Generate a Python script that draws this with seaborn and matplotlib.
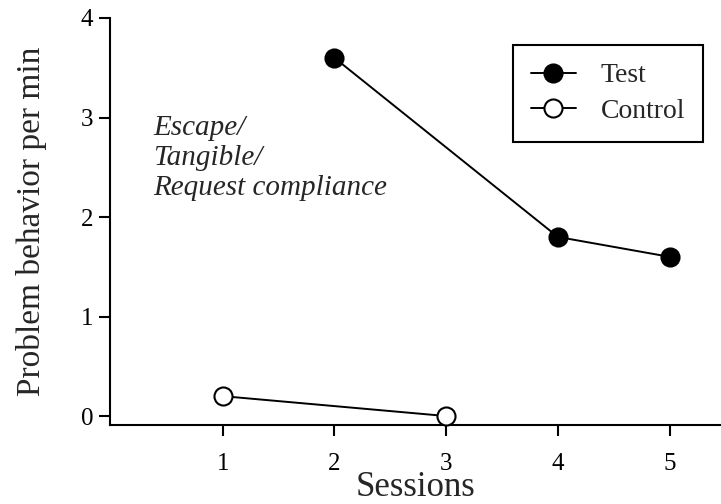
import matplotlib
matplotlib.use("Agg")
import matplotlib.pyplot as plt
import seaborn as sns
import pandas as pd

test_sessions = [2, 4, 5]
test_values = [3.6, 1.8, 1.6]
control_sessions = [1, 3]
control_values = [0.2, 0.0]
x_ticks = [1, 2, 3, 4, 5]
y_ticks = [0, 1, 2, 3, 4]

sns.set_style("ticks")
plt.rcParams['font.family'] = ['Liberation Serif', 'DejaVu Serif']

test_df = pd.DataFrame({"Session": test_sessions, "Value": test_values})
control_df = pd.DataFrame({"Session": control_sessions, "Value": control_values})

fig = plt.figure(figsize=(7.21, 5.04), dpi=100)
ax = fig.add_axes([110/721, 79/504, 1 - 110/721, (425 - 18)/504])

common = dict(color="black", marker="o", markersize=13, markeredgecolor="black",
              markeredgewidth=1.5, linewidth=1.4, clip_on=False, zorder=5)
sns.lineplot(data=test_df, x="Session", y="Value", ax=ax, label="Test",
             markerfacecolor="black", **common)
sns.lineplot(data=control_df, x="Session", y="Value", ax=ax, label="Control",
             markerfacecolor="white", **common)

ax.set_xlim(-0.008, 5.46)
ax.set_ylim(-0.09, 4)
ax.set_xticks(x_ticks)
ax.set_yticks(y_ticks)
ax.tick_params(axis="both", direction="out", length=8, width=1.5, labelsize=18,
               color="black", labelcolor="black")
ax.tick_params(axis="x", pad=12)
ax.tick_params(axis="y", pad=4)
for s in ["top", "right"]:
    ax.spines[s].set_visible(False)
for s in ["left", "bottom"]:
    ax.spines[s].set_linewidth(1.5)
    ax.spines[s].set_color("black")
ax.spines["left"].set_bounds(-0.09, 4)

ax.set_xlabel("Sessions", fontsize=25, labelpad=-3)
ax.set_ylabel("Problem behavior per min", fontsize=24, labelpad=24)

ax.text(0.38, 3.03, "Escape/\nTangible/\nRequest compliance", fontsize=21,
        style="italic", va="top", ha="left", linespacing=1.22)

leg = ax.legend(loc="upper left", bbox_to_anchor=(513/721, 1 - 45/504),
                bbox_transform=fig.transFigure, borderaxespad=0, fontsize=20,
                frameon=True, fancybox=False, edgecolor="black",
                handlelength=1.6, handletextpad=0.9, labelspacing=0.35,
                borderpad=0.65)
leg.get_frame().set_linewidth(1.5)
leg.get_frame().set_alpha(1)

fig.savefig("out.png", dpi=100)
